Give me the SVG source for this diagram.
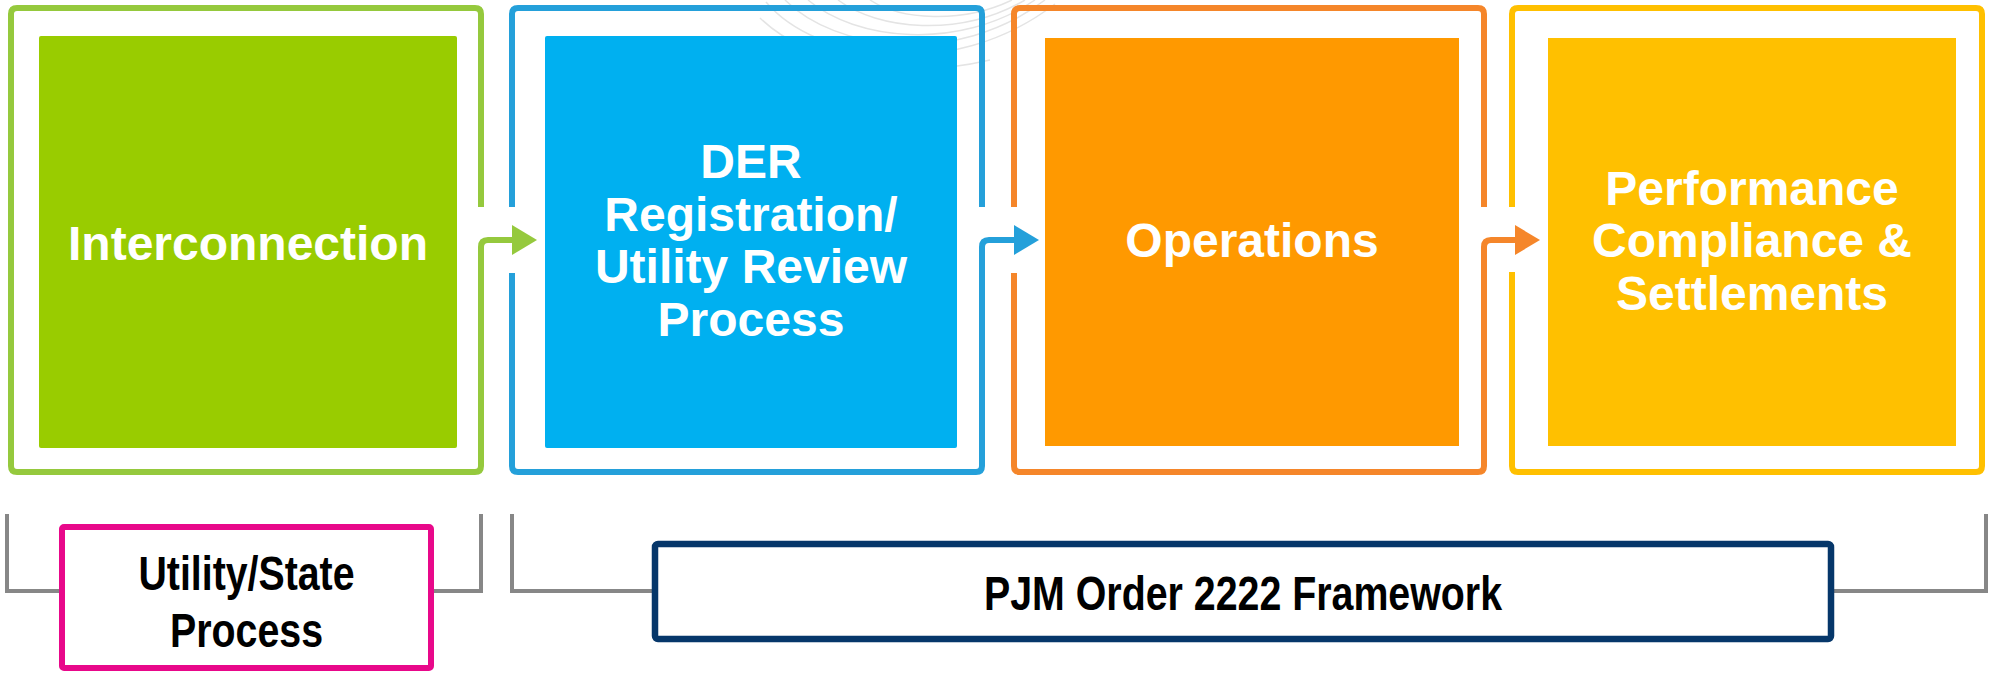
<svg xmlns="http://www.w3.org/2000/svg" width="1990" height="673" viewBox="0 0 1990 673">
<style>
.frame{fill:none;stroke-width:6;stroke-linejoin:round;stroke-linecap:butt}
.inner{stroke:none}
.t{font-family:"Liberation Sans",Arial,Helvetica,sans-serif;font-weight:bold;font-size:48px;fill:#ffffff;text-anchor:middle}
.tb{font-family:"Liberation Sans Narrow","Liberation Sans",Arial,sans-serif;font-weight:bold;font-size:48px;fill:#000000;text-anchor:middle}
.bracket{fill:none;stroke:#878787;stroke-width:4}
.arc{fill:none;stroke:#e4e4e4;stroke-width:1.5}
.conn{fill:none;stroke-width:6;stroke-linejoin:round}
</style>
<rect x="0" y="0" width="1990" height="673" fill="#ffffff"/>
<g id="background-arcs">
<path class="arc" d="M 766 2 C 815 60, 950 84, 1055 4"/>
<path class="arc" d="M 785 0 C 835 50, 955 68, 1045 0"/>
<path class="arc" d="M 808 0 C 855 40, 958 52, 1035 0"/>
<path class="arc" d="M 838 0 C 878 30, 960 38, 1025 0"/>
<path class="arc" d="M 870 0 C 900 20, 962 24, 1012 0"/>
<path class="arc" d="M 760 18 C 810 66, 905 80, 990 60"/>
</g>
<g id="node-interconnection">
<path class="frame" stroke="#95C93D" d="M 481 207 V 14 Q 481 8 475 8 H 17 Q 11 8 11 14 V 466 Q 11 472 17 472 H 475 Q 481 472 481 466 V 250"/>
<rect class="inner" x="39" y="36" width="418" height="412" rx="2" fill="#99CC00"/>
<text class="t" x="248" y="260">Interconnection</text>
</g>
<g id="node-der-registration">
<path class="frame" stroke="#24A0DA" d="M 512 207 V 14 Q 512 8 518 8 H 976 Q 982 8 982 14 V 207 M 512 273 V 466 Q 512 472 518 472 H 976 Q 982 472 982 466 V 250"/>
<rect class="inner" x="545" y="36" width="412" height="412" rx="2" fill="#00B0F0"/>
<text class="t" x="751" y="178">DER</text>
<text class="t" x="751" y="231">Registration/</text>
<text class="t" x="751" y="283">Utility Review</text>
<text class="t" x="751" y="336">Process</text>
</g>
<g id="node-operations">
<path class="frame" stroke="#F5862A" d="M 1014 207 V 14 Q 1014 8 1020 8 H 1478 Q 1484 8 1484 14 V 207 M 1014 273 V 466 Q 1014 472 1020 472 H 1478 Q 1484 472 1484 466 V 250"/>
<rect class="inner" x="1045" y="38" width="414" height="408" fill="#FF9900"/>
<text class="t" x="1252" y="257">Operations</text>
</g>
<g id="node-performance">
<path class="frame" stroke="#FFC000" d="M 1512 207 V 14 Q 1512 8 1518 8 H 1976 Q 1982 8 1982 14 V 466 Q 1982 472 1976 472 H 1518 Q 1512 472 1512 466 V 272"/>
<rect class="inner" x="1548" y="38" width="408" height="408" fill="#FFC000"/>
<text class="t" x="1752" y="205">Performance</text>
<text class="t" x="1752" y="257">Compliance &amp;</text>
<text class="t" x="1752" y="310">Settlements</text>
</g>
<g id="connectors">
<path class="conn" stroke="#95C93D" d="M 481 252 V 247 Q 481 240 488 240 H 514"/>
<polygon fill="#95C93D" points="512,225 537,240 512,255"/>
<path class="conn" stroke="#24A0DA" d="M 982 252 V 247 Q 982 240 989 240 H 1016"/>
<polygon fill="#24A0DA" points="1014,225 1039,240 1014,255"/>
<path class="conn" stroke="#F5862A" d="M 1484 252 V 247 Q 1484 240 1491 240 H 1517"/>
<polygon fill="#F5862A" points="1515,225 1540,240 1515,255"/>
<path class="bracket" d="M 7 514 V 591 H 481 V 514"/>
<path class="bracket" d="M 512 514 V 591 H 1986 V 514"/>
</g>
<g id="node-utility-state">
<rect x="62" y="527" width="369" height="141" rx="2" fill="#ffffff" stroke="#E8088A" stroke-width="6"/>
<text class="tb" x="246.5" y="590" textLength="216" lengthAdjust="spacingAndGlyphs">Utility/State</text>
<text class="tb" x="246.5" y="647" textLength="153" lengthAdjust="spacingAndGlyphs">Process</text>
</g>
<g id="node-pjm-framework">
<rect x="655" y="544" width="1176" height="95" rx="3" fill="#ffffff" stroke="#06376A" stroke-width="6.5"/>
<text class="tb" x="1243" y="610" textLength="518" lengthAdjust="spacingAndGlyphs">PJM Order 2222 Framework</text>
</g>
</svg>
